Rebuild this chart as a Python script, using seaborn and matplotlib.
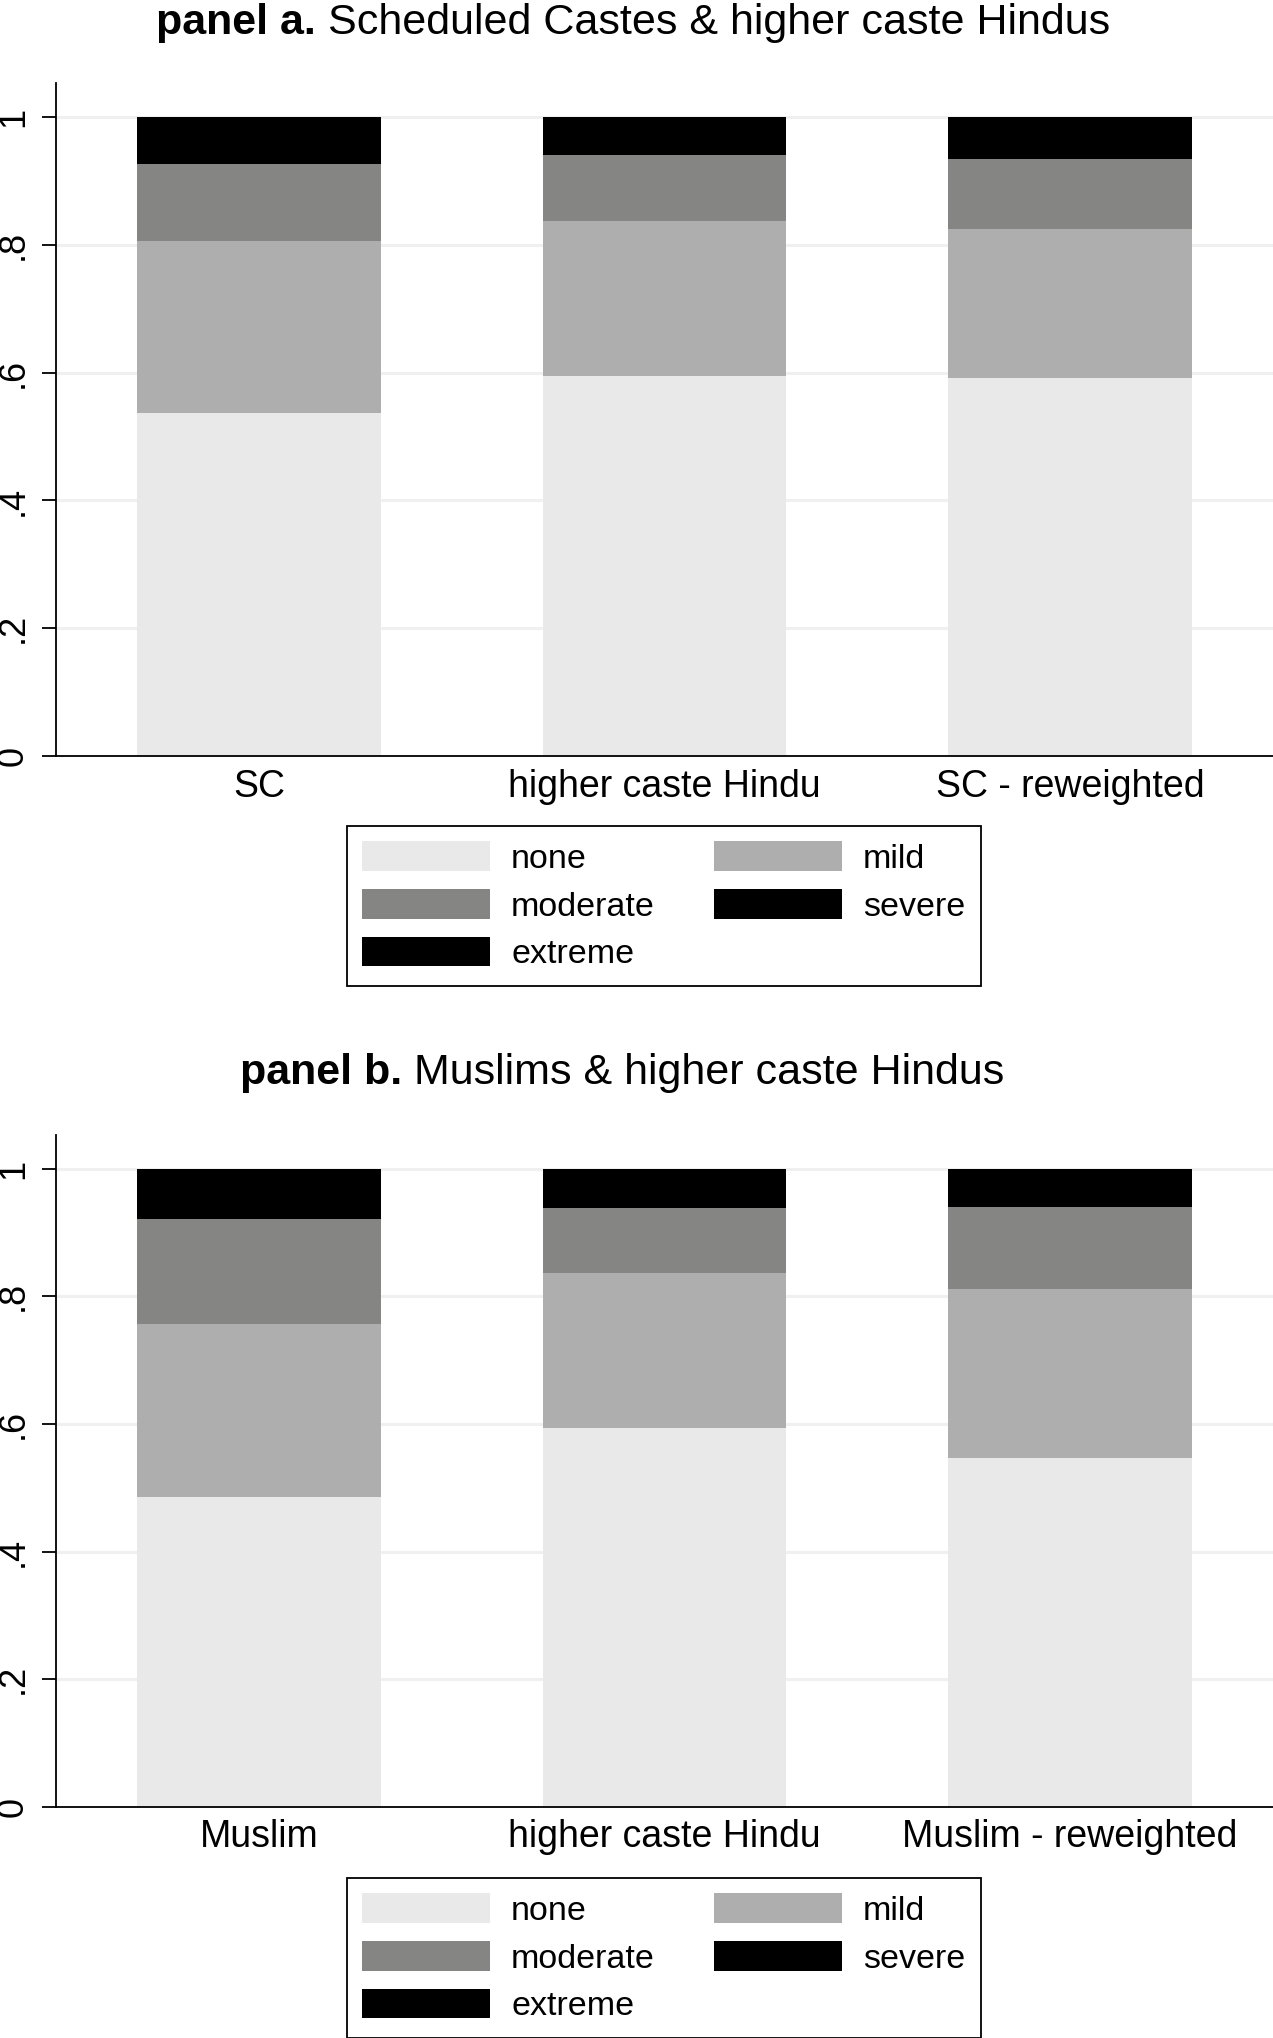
import pandas as pd
import numpy as np
import matplotlib
matplotlib.use("Agg")
import matplotlib.pyplot as plt
import seaborn as sns
from matplotlib.patches import Patch

# shares of each food-insecurity level
levels = ["none", "mild", "moderate", "severe", "extreme"]
colors = ["#e9e9e9", "#adaead", "#858584", "#000000", "#000000"]

groups_a = ["SC", "higher caste Hindu", "SC - reweighted"]
none_a = [0.537, 0.594, 0.592]
mild_a = [0.269, 0.243, 0.233]
moderate_a = [0.120, 0.104, 0.110]
severe_a = [0.045, 0.036, 0.040]
extreme_a = [0.029, 0.023, 0.025]

groups_b = ["Muslim", "higher caste Hindu", "Muslim - reweighted"]
none_b = [0.485, 0.593, 0.547]
mild_b = [0.271, 0.244, 0.264]
moderate_b = [0.166, 0.102, 0.129]
severe_b = [0.047, 0.037, 0.036]
extreme_b = [0.031, 0.024, 0.024]

titles = ["panel a.", "panel b."]
subtitles = ["Scheduled Castes & higher caste Hindus", "Muslims & higher caste Hindus"]

sns.set_theme(style="white")
plt.rcParams["font.family"] = ["Liberation Sans", "DejaVu Sans"]
plt.rcParams["text.color"] = "black"
plt.rcParams["xtick.color"] = "black"
plt.rcParams["ytick.color"] = "black"

fig = plt.figure(figsize=(12.73, 20.38), dpi=100)

panels = [
    (groups_a, [none_a, mild_a, moderate_a, severe_a, extreme_a], [0.044, 0.6290, 0.956, 0.3302], 0.9985, 0.5947),
    (groups_b, [none_b, mild_b, moderate_b, severe_b, extreme_b], [0.044, 0.1134, 0.956, 0.3297], 0.4835, 0.0785),
]

fig.canvas.draw()
renderer = fig.canvas.get_renderer()

for i, (groups, vals, pos, title_y, leg_y) in enumerate(panels):
    ax = fig.add_axes(pos)
    df = pd.DataFrame(dict(zip(levels, vals)), index=groups)
    cum = df.cumsum(axis=1)
    # draw cumulative totals from the top level down so each layer covers the one above
    for lev, col in reversed(list(zip(levels, colors))):
        sub = pd.DataFrame({"group": groups, "value": cum[lev].values})
        sns.barplot(data=sub, x="group", y="value", color=col, saturation=1,
                    width=0.6, ax=ax, linewidth=0, zorder=2)
    ax.set_xlim(-0.5, 2.5)
    ax.set_ylim(0, 1.053)
    ax.set_yticks([0, 0.2, 0.4, 0.6, 0.8, 1.0])
    ax.set_yticklabels(["0", ".2", ".4", ".6", ".8", "1"], rotation=90, va="center", fontsize=26)
    ax.set_xticks(range(3))
    ax.set_xticklabels(groups, fontsize=27)
    ax.set_xlabel("")
    ax.set_ylabel("")
    ax.yaxis.grid(True, color="#f0f0f0", linewidth=2.2, zorder=0)
    ax.set_axisbelow(True)
    for s in ["top", "right"]:
        ax.spines[s].set_visible(False)
    for s in ["left", "bottom"]:
        ax.spines[s].set_color("black")
        ax.spines[s].set_linewidth(1.3)
    ax.tick_params(axis="y", left=True, length=10, width=1.3, color="black", pad=8)
    ax.tick_params(axis="x", bottom=False, pad=3)

    # title: bold prefix + regular text, centred as one line
    t1 = fig.text(0, title_y, titles[i], ha="left", va="top", fontsize=31, fontweight="bold")
    t2 = fig.text(0, title_y, " " + subtitles[i], ha="left", va="top", fontsize=31)
    w1 = t1.get_window_extent(renderer).width / fig.bbox.width
    w2 = t2.get_window_extent(renderer).width / fig.bbox.width
    x0 = 0.497 - (w1 + w2) / 2 - 0.008 * i
    t1.set_x(x0)
    t2.set_x(x0 + w1)

    handles = [Patch(facecolor=c, edgecolor="none") for c in colors]
    order = [0, 2, 4, 1, 3]
    leg = fig.legend([handles[k] for k in order], [levels[k] for k in order],
                     loc="upper left", bbox_to_anchor=(0.2726, leg_y),
                     ncol=2, fontsize=24.5, frameon=True, fancybox=False, framealpha=1,
                     handlelength=3.75, handleheight=0.96, handletextpad=0.62,
                     columnspacing=1.75, labelspacing=0.42, borderpad=0.45,
                     borderaxespad=0)
    leg.get_frame().set_edgecolor("black")
    leg.get_frame().set_linewidth(1.3)

fig.savefig("out.png", dpi=100, facecolor="white")
